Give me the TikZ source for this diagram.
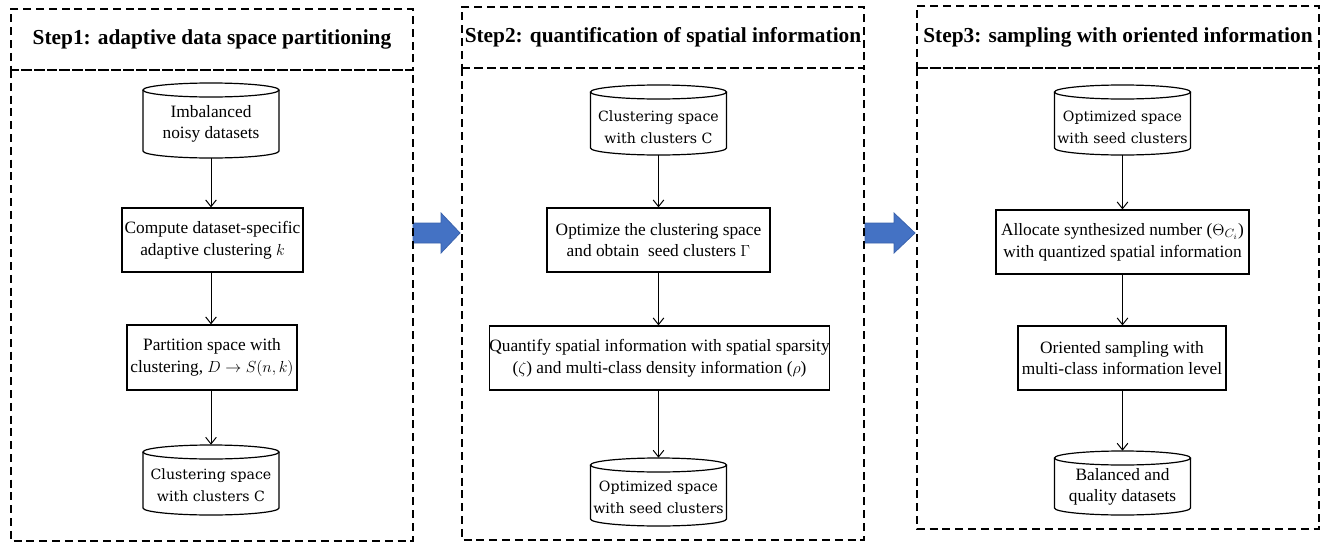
\documentclass[tikz,border=0pt]{standalone}
\usepackage{fontspec}
\setmainfont{Liberation Serif}
\newfontfamily\cambria{DejaVu Serif}
\usetikzlibrary{arrows.meta}
\definecolor{arrowblue}{HTML}{4472C4}
\definecolor{arrowedge}{HTML}{3A62AC}
\tikzset{
  panel/.style={draw, line width=1.4pt, dash pattern=on 6pt off 3.6pt},
  head/.style={panel, font=\bfseries\fontsize{16}{19}\selectfont, inner sep=0pt},
  stepbox/.style={draw, line width=0.9pt, align=center, inner sep=0pt, font=\fontsize{13}{16.3}\selectfont},
  cylbody/.style={inner sep=0pt},
  cyltimes/.style={align=center, inner sep=0pt, font=\fontsize{13}{16}\selectfont},
  cylcam/.style={align=center, inner sep=0pt, font=\cambria\fontsize{10.6}{16.5}\selectfont},
  flow/.style={line width=0.75pt, -{Straight Barb[length=5pt,width=8pt]}},
  bigarrow/.style={fill=arrowblue, draw=arrowedge, line width=0.6pt},
}
\newcommand{\cylshape}[3]{%
  \draw[line width=0.9pt] (#1,#2+7) ellipse [x radius=51pt, y radius=5.25pt];
  \draw[line width=0.9pt] (#1-68,#2+7) -- (#1-68,#3-7) arc[start angle=180, end angle=360, x radius=51pt, y radius=5.25pt] -- (#1+68,#2+7);
}
\newcommand{\cylnode}[4]{%
  \node[cylbody, minimum width=102pt, minimum height={(#4-#3)*0.75pt}] (#1) at (#2,{(#3+#4)/2}) {};
  \cylshape{#2}{#3}{#4}%
}
\begin{document}
\begin{tikzpicture}[x=0.75pt, y=-0.75pt]
\useasboundingbox (0,0) rectangle (1329,543);

% big blue arrows between panels
\draw[bigarrow] (413,223) -- (441,223) -- (441,213) -- (460,233) -- (441,253) -- (441,243) -- (413,243) -- cycle;
\draw[bigarrow] (865,223) -- (894,223) -- (894,213) -- (915,233) -- (894,253) -- (894,243) -- (865,243) -- cycle;

% ---------------- Panel 1
\node[head, minimum width={402*0.75pt}, minimum height={61*0.75pt}] (h1) at (212,39.5) {Step1: adaptive data space partitioning};
\draw[panel] (11,70) rectangle (413,541);

\cylnode{c1}{211}{83}{158}
\node[cyltimes] (c1t) at (211,124) {Imbalanced\\noisy datasets};
\node[stepbox, minimum width={181*0.75pt}, minimum height=48pt] (b1) at (212.5,240) {Compute dataset-specific\\adaptive clustering $k$};
\node[stepbox, minimum width={170*0.75pt}, minimum height={65*0.75pt}] (b2) at (212,357.5) {Partition space with\\clustering, $D\rightarrow S(n,k)$};
\cylnode{c2}{211}{445}{515}
\node[cylcam] (c2t) at (211,485) {Clustering space\\with clusters C};

\draw[flow] (c1.south) -- (c1.south |- b1.north);
\draw[flow] (c1 |- b1.south) -- (c1 |- b2.north);
\draw[flow] (c1 |- b2.south) -- (c2.north);

% ---------------- Panel 2
\node[head, minimum width={402*0.75pt}, minimum height={61*0.75pt}] (h2) at (663,37.5) {Step2: quantification of spatial information};
\draw[panel] (462,68) rectangle (864,540);

\cylnode{d1}{658.5}{85}{155}
\node[cylcam] (d1t) at (658.5,127) {Clustering space\\with clusters C};
\node[stepbox, minimum width={223*0.75pt}, minimum height=48pt] (e1) at (658.5,240) {Optimize the clustering space\\and obtain\ \ seed clusters $\Gamma$};
\node[stepbox, minimum width={333*0.75pt}, minimum height=48pt] (e2) at (659.5,358) {Quantify spatial information with spatial sparsity\\($\zeta$) and multi-class density information ($\rho$)};
\cylnode{d2}{658.5}{458}{526}
\node[cylcam] (d2t) at (658.5,497) {Optimized space\\with seed clusters};

\draw[flow] (d1.south) -- (d1.south |- e1.north);
\draw[flow] (d1 |- e1.south) -- (d1 |- e2.north);
\draw[flow] (d1 |- e2.south) -- (d2.north);

% ---------------- Panel 3
\node[head, minimum width={402*0.75pt}, minimum height={62*0.75pt}] (h3) at (1118,37) {Step3: sampling with oriented information};
\draw[panel] (917,68) rectangle (1319,529);

\cylnode{f1}{1122.5}{85}{155}
\node[cylcam] (f1t) at (1122.5,127) {Optimized space\\with seed clusters};
\node[stepbox, minimum width={253*0.75pt}, minimum height=48pt] (g1) at (1122.5,242) {Allocate synthesized number ($\Theta_{C_i}$)\\with quantized spatial information};
\node[stepbox, minimum width={208*0.75pt}, minimum height=48pt] (g2) at (1122,358) {Oriented sampling with\\multi-class information level};
\cylnode{f2}{1122.5}{451}{515}
\node[cyltimes] (f2t) at (1122.5,487) {Balanced and\\quality datasets};

\draw[flow] (f1.south) -- (f1.south |- g1.north);
\draw[flow] (f1 |- g1.south) -- (f1 |- g2.north);
\draw[flow] (f1 |- g2.south) -- (f2.north);
\end{tikzpicture}
\end{document}
